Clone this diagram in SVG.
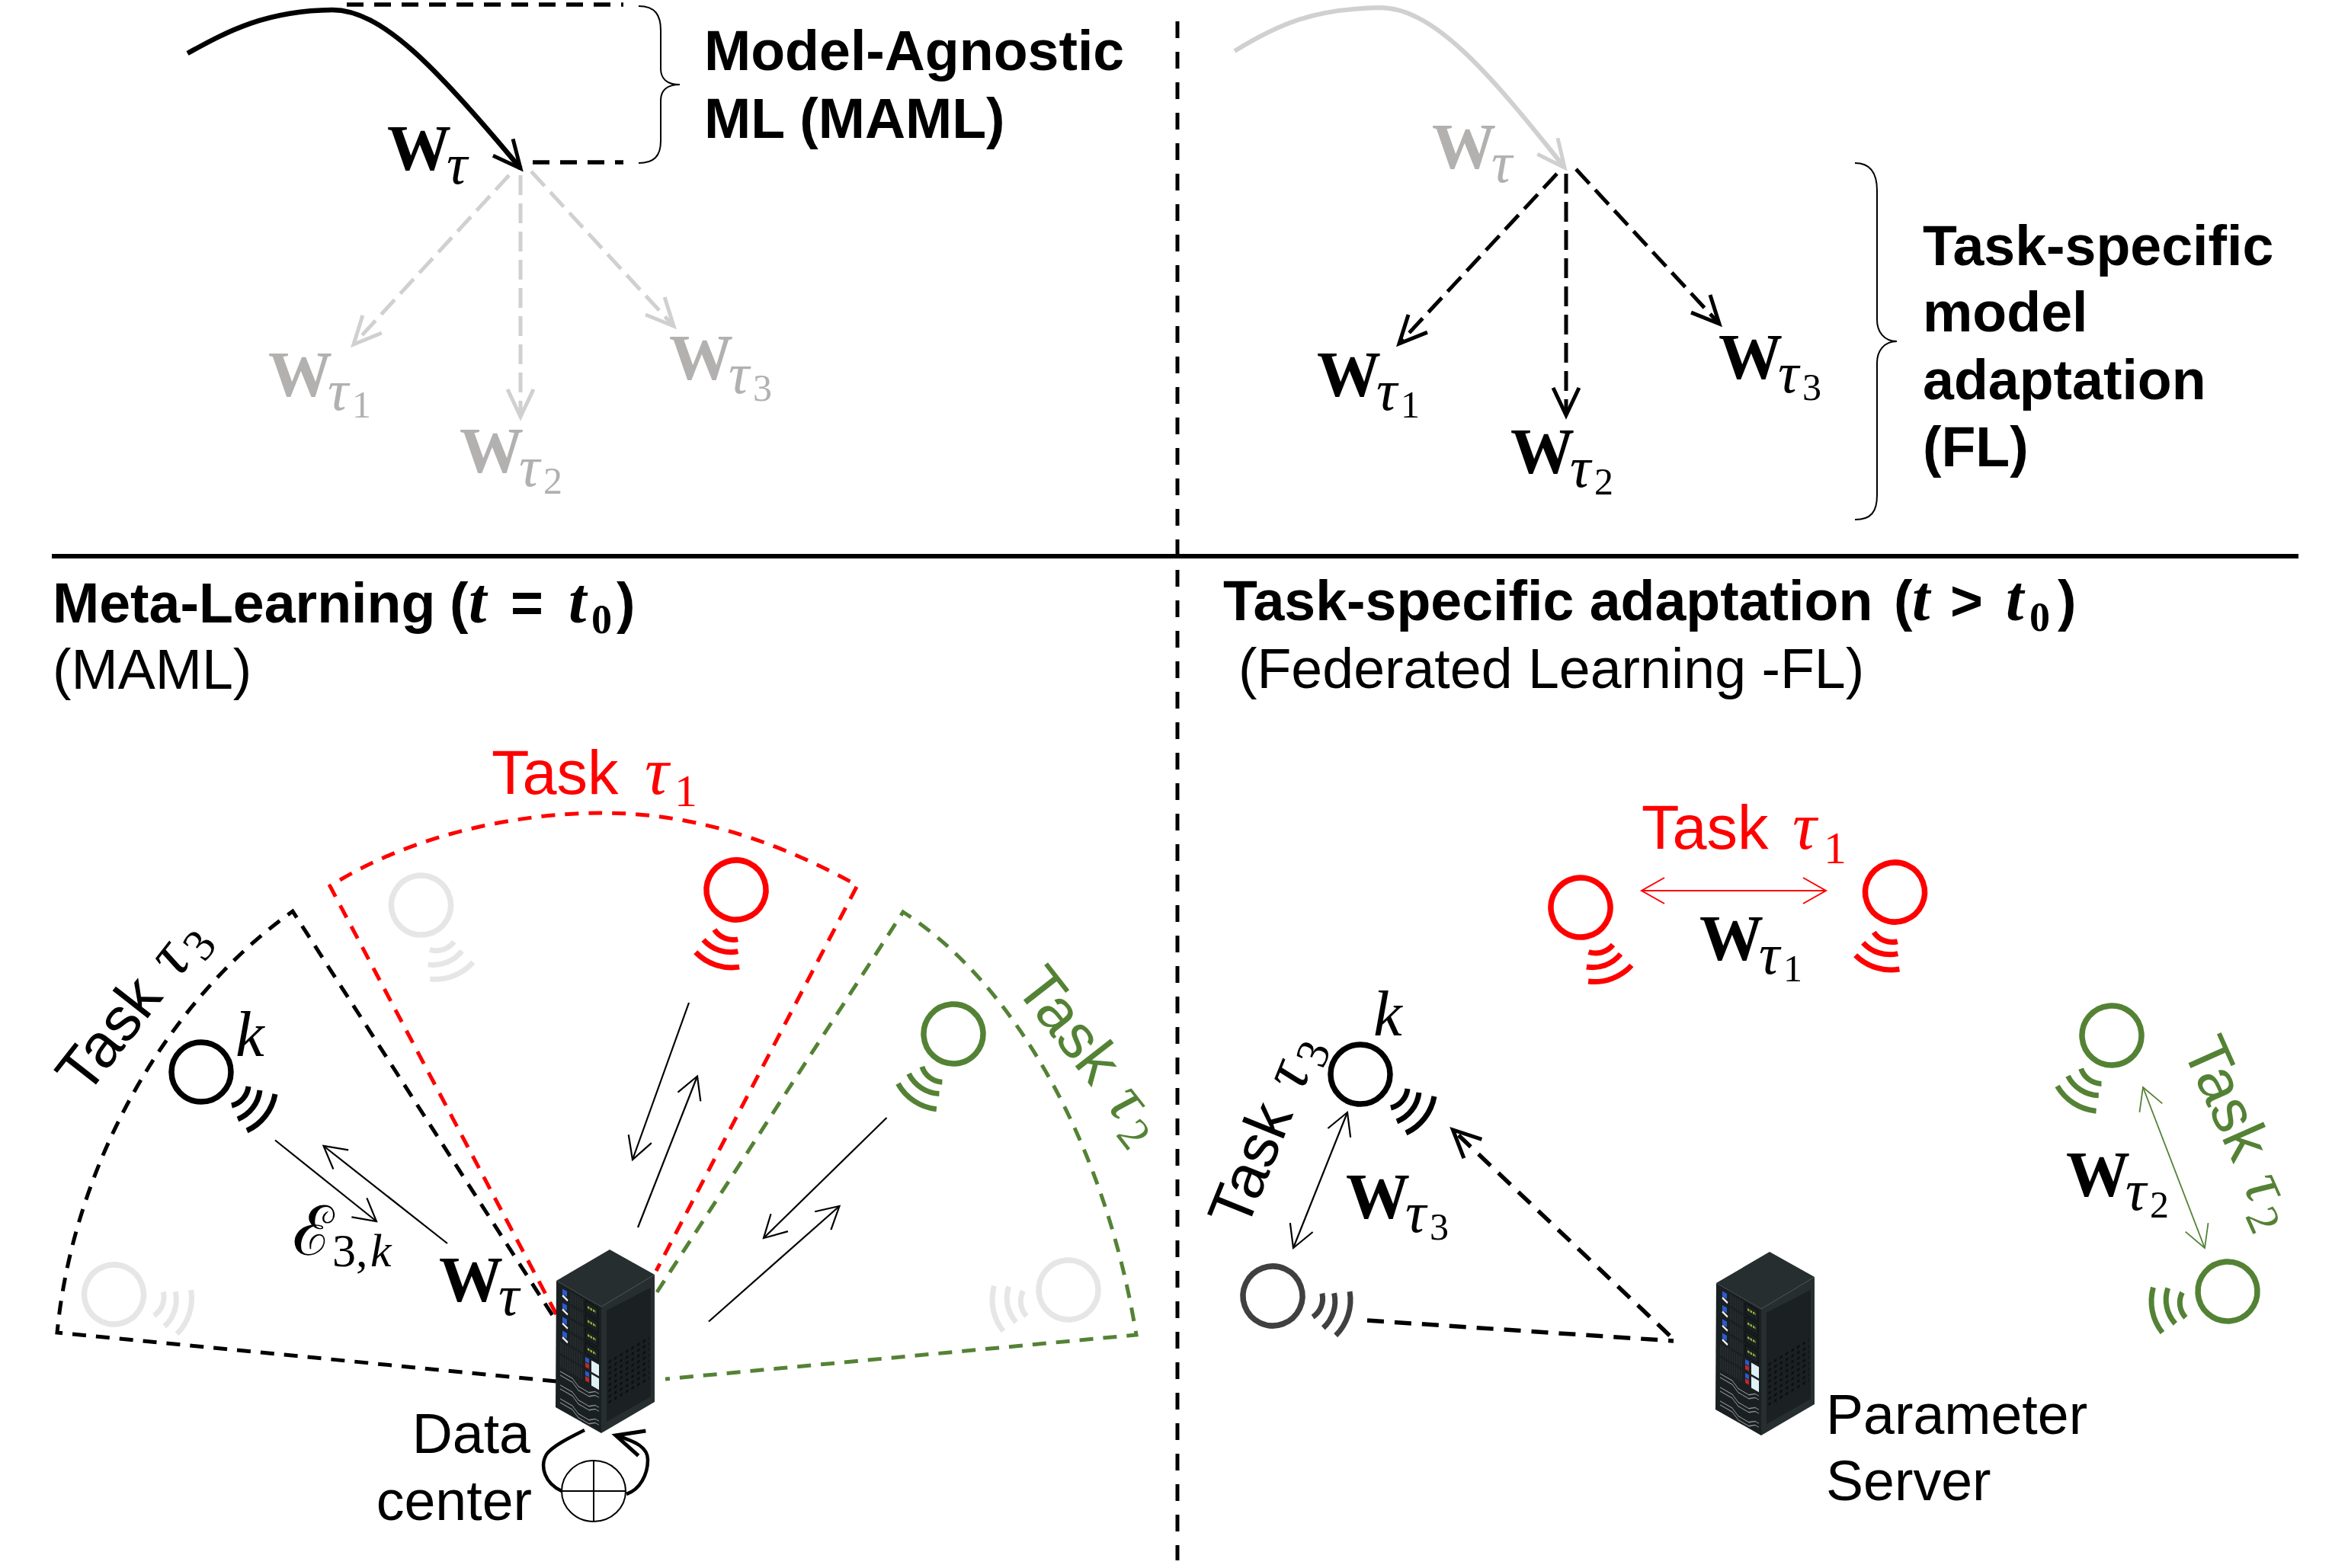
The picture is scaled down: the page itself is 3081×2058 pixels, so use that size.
<svg xmlns="http://www.w3.org/2000/svg" width="3081" height="2058" viewBox="0 0 3081 2058">
<style>
text{font-family:"Liberation Sans",Arial,sans-serif;font-size:73.5px;fill:#000}
.b{font-weight:700}
.W{font-family:"Liberation Serif",serif;font-weight:700;font-size:84px}
.t{font-family:"Liberation Serif",serif;font-style:italic;font-weight:400;font-size:76px}
.d{font-family:"Liberation Serif",serif;font-weight:400;font-size:50px}
.m{font-family:"Liberation Serif",serif;font-style:italic;font-weight:700;font-size:84px}
.gt,.gt text,.gt tspan{fill:#b3b0b0}
.task{font-size:81px}
.tt{font-family:"Liberation Serif",serif;font-style:italic;font-size:88px}
.td{font-family:"Liberation Serif",serif;font-size:60px}
.line{fill:none;stroke:#000;stroke-width:2.2}
.dash{fill:none;stroke:#000;stroke-width:5.5;stroke-dasharray:22 14}
.fan{fill:none;stroke-width:5;stroke-dasharray:26 11}
.sec{fill:none;stroke-width:5;stroke-dasharray:18 13}
.k{stroke:#000}.r{stroke:#f00}.g{stroke:#548235}.lg{stroke:#e6e6e6}.dg{stroke:#404040}.pg{stroke:#d0d0d0}
.dev{fill:none;stroke-width:7.5}
.brace{fill:none;stroke:#000;stroke-width:2}
</style>
<defs>
<marker id="aK" markerUnits="userSpaceOnUse" orient="auto-start-reverse" markerWidth="1" markerHeight="1" overflow="visible"><path d="M-29,-16L0,0L-29,16" fill="none" stroke="#000" stroke-width="2.2"/></marker>
<marker id="aR" markerUnits="userSpaceOnUse" orient="auto-start-reverse" markerWidth="1" markerHeight="1" overflow="visible"><path d="M-30,-17L0,0L-30,17" fill="none" stroke="#f00" stroke-width="2"/></marker>
<marker id="aG" markerUnits="userSpaceOnUse" orient="auto-start-reverse" markerWidth="1" markerHeight="1" overflow="visible"><path d="M-29,-16L0,0L-29,16" fill="none" stroke="#548235" stroke-width="1.8"/></marker>
<marker id="bK" markerUnits="userSpaceOnUse" orient="auto" markerWidth="1" markerHeight="1" overflow="visible"><path d="M-36,-17L0,0L-36,17" fill="none" stroke="#000" stroke-width="5"/></marker>
<marker id="bP" markerUnits="userSpaceOnUse" orient="auto" markerWidth="1" markerHeight="1" overflow="visible"><path d="M-36,-17L0,0L-36,17" fill="none" stroke="#d0d0d0" stroke-width="5"/></marker>
<pattern id="holes" patternUnits="userSpaceOnUse" width="7.5" height="7.5"><rect x="2" y="2" width="3.4" height="3.6" fill="#0c0f10"/></pattern>
<g id="dev"><circle r="39"/><path d="M62,19A29,29 0 0 1 40,44M77,24A47,47 0 0 1 48,62M97,29A66,66 0 0 1 60,77" stroke-width="7"/></g>
<g id="row"><rect x="8" y="4" width="6" height="7" fill="#2a5bd0"/><path d="M8,12.5l7,3" stroke="#eee" stroke-width="3"/><path d="M19,2v15M22,2v15M25,2v15M28,2v15M31,2v15M34,2v15" stroke="#30383a" stroke-width="1"/><rect x="38" y="2" width="17" height="15" fill="none" stroke="#0c0f10" stroke-width="1"/><path d="M41,9h11" stroke="#8fb339" stroke-width="3" stroke-dasharray="2.5 1"/></g>
<g id="row2"><path d="M6,2v15M9,2v15M12,2v15M15,2v15M18,2v15M21,2v15M24,2v15M27,2v15M30,2v15M33,2v15" stroke="#30383a" stroke-width="1"/><rect x="38" y="3" width="5" height="6" fill="#2a5bd0"/><rect x="38" y="10" width="5" height="6" fill="#c0272d"/><rect x="46" y="3" width="10" height="15" fill="#dff1f5"/></g>
<g id="wave"><path d="M5,0h16l8,6h14l8,-6h5M5,5h16l8,6h14l8,-6h5" fill="none" stroke="#8a8f90" stroke-width="1.2"/></g>
<g id="rack">
<polygon points="730,1681 800,1640 859,1673 789,1715" fill="#272e30"/>
<polygon points="730,1681 789,1715 789,1881 729,1847" fill="#1a1f21"/>
<polygon points="789,1715 859,1673 859,1840 789,1881" fill="#272e30"/>
<polygon points="796,1720 854,1690 854,1833 796,1866" fill="#1b2022"/>
<g transform="matrix(1,.576,0,1,730,1681)">
<use href="#row" y="2"/><use href="#row" y="20.3"/><use href="#row" y="38.6"/><use href="#row" y="57"/>
<use href="#row2" y="75"/><use href="#row2" y="93"/>
<use href="#wave" y="116"/><use href="#wave" y="134"/><use href="#wave" y="152"/>
</g>
<rect x="9" y="75" width="54" height="62" fill="url(#holes)" transform="matrix(1,-.6,0,1,789,1715)"/>
</g>
</defs>
<rect width="3081" height="2058" fill="#fff"/>
<g id="connectors">
<path d="M1545,28V2048" fill="none" stroke="#000" stroke-width="5" stroke-dasharray="22 18"/>
<path d="M68,730H3016" fill="none" stroke="#000" stroke-width="6"/>
<path d="M246,70C300,40 350,14 436,13C500,13 570,85 683,221" fill="none" stroke="#000" stroke-width="6.5" marker-end="url(#bK)"/>
<path class="dash" d="M455,6H818"/><path class="dash" d="M699,213H818"/>
<path class="brace" d="M838,8C860,8 867,20 867,40L867,90C867,103 875,111 892,111C875,111 867,119 867,132L867,185C867,205 858,214 838,214"/>
<path class="fan pg" d="M668,230L464,452" marker-end="url(#bP)"/>
<path class="fan pg" d="M683,230V547" marker-end="url(#bP)"/>
<path class="fan pg" d="M697,225L884,428" marker-end="url(#bP)"/>
<path d="M1620,67C1680,30 1725,12 1810,10C1880,10 1950,90 2053,220" fill="none" stroke="#d0d0d0" stroke-width="6" marker-end="url(#bP)"/>
<path class="fan k" d="M2043,228L1836,451" marker-end="url(#bK)"/>
<path class="fan k" d="M2055,228V545" marker-end="url(#bK)"/>
<path class="fan k" d="M2068,222L2256,425" marker-end="url(#bK)"/>
<path class="brace" d="M2434,214C2455,214 2463,228 2463,250L2463,420C2463,435 2472,448 2489,448C2472,448 2463,461 2463,476L2463,650C2463,672 2455,682 2434,682"/>
<path class="sec k" d="M730,1813L75,1749C95,1540 210,1320 384,1196L730,1734"/>
<path class="sec r" d="M730,1725L433,1163C540,1095 680,1067 790,1067C920,1067 1030,1110 1125,1162L861,1668"/>
<path class="sec g" d="M862,1696L1185,1197C1330,1290 1450,1500 1491,1752L873,1810"/>
<path class="line" d="M361,1496.5L494,1603" marker-end="url(#aK)"/>
<path class="line" d="M587,1632L424.5,1504" marker-end="url(#aK)"/>
<path class="line" d="M904,1316L830,1522" marker-end="url(#aK)"/>
<path class="line" d="M837,1611L915,1412.5" marker-end="url(#aK)"/>
<path class="line" d="M1163.5,1467L1002,1625" marker-end="url(#aK)"/>
<path class="line" d="M930,1734.5L1101.5,1583" marker-end="url(#aK)"/>
<path d="M767,1877C745,1888 725,1898 717,1909C708,1925 715,1947 737,1957" fill="none" stroke="#000" stroke-width="4.5"/>
<path d="M822,1961C840,1955 850,1935 850,1916C850,1900 835,1892 808,1884" fill="none" stroke="#000" stroke-width="4.5" marker-end="url(#bK)"/>
<path d="M2154,1169H2396" fill="none" stroke="#f00" stroke-width="2" marker-start="url(#aR)" marker-end="url(#aR)"/>
<path class="line" d="M1768,1460L1697,1638" marker-start="url(#aK)" marker-end="url(#aK)"/>
<path d="M2812,1427L2893,1638" fill="none" stroke="#548235" stroke-width="1.8" marker-start="url(#aG)" marker-end="url(#aG)"/>
<path class="dash" d="M2191,1753L1906.5,1483" marker-end="url(#bK)"/>
<path class="dash" d="M1794,1733L2196,1760"/>
</g>
<g id="node-server-dc"><use href="#rack"/></g>
<g id="node-server-ps"><use href="#rack" transform="translate(1522,3)"/></g>
<g id="node-oplus" fill="none" stroke="#000" stroke-width="2"><ellipse cx="779" cy="1957" rx="42" ry="40"/><path d="M737,1957H821M779,1917V1997"/></g>
<g id="node-l3-k" class="dev k" transform="translate(264,1407)"><use href="#dev"/></g>
<g id="node-l3-a" class="dev lg" transform="translate(149.5,1699) rotate(-20)"><use href="#dev"/></g>
<g id="node-l1-a" class="dev lg" transform="translate(552.5,1188) rotate(31)"><use href="#dev"/></g>
<g id="node-l1-b" class="dev r" transform="translate(966,1168) rotate(71)"><use href="#dev"/></g>
<g id="node-l2-a" class="dev g" transform="translate(1251,1357) rotate(86)"><use href="#dev"/></g>
<g id="node-l2-b" class="dev lg" transform="translate(1402,1693) rotate(131)"><use href="#dev"/></g>
<g id="node-r1-a" class="dev r" transform="translate(2074,1191) rotate(32)"><use href="#dev"/></g>
<g id="node-r1-b" class="dev r" transform="translate(2486.5,1171) rotate(70)"><use href="#dev"/></g>
<g id="node-r3-k" class="dev k" transform="translate(1785,1410)"><use href="#dev"/></g>
<g id="node-r3-a" class="dev dg" transform="translate(1670,1701) rotate(-20)"><use href="#dev"/></g>
<g id="node-r2-a" class="dev g" transform="translate(2771,1359) rotate(85)"><use href="#dev"/></g>
<g id="node-r2-b" class="dev g" transform="translate(2923,1695) rotate(131)"><use href="#dev"/></g>
<g id="labels">
<text class="b" x="924" y="92">Model-Agnostic</text>
<text class="b" x="924" y="181">ML (MAML)</text>
<text class="b" x="2523" y="348">Task-specific</text>
<text class="b" x="2523" y="435">model</text>
<text class="b" x="2523" y="524">adaptation</text>
<text class="b" x="2523" y="612">(FL)</text>
<text class="W" x="508" y="223">W<tspan class="t" x="586" y="241">τ</tspan></text>
<g class="gt">
<text class="W" x="352" y="520">W<tspan class="t" x="430" y="538">τ</tspan><tspan class="d" x="462" y="548">1</tspan></text>
<text class="W" x="603" y="620">W<tspan class="t" x="681" y="638">τ</tspan><tspan class="d" x="713" y="648">2</tspan></text>
<text class="W" x="878" y="498">W<tspan class="t" x="956" y="516">τ</tspan><tspan class="d" x="988" y="526">3</tspan></text>
<text class="W" x="1879" y="221">W<tspan class="t" x="1957" y="239">τ</tspan></text>
</g>
<text class="W" x="1728" y="520">W<tspan class="t" x="1806" y="538">τ</tspan><tspan class="d" x="1838" y="548">1</tspan></text>
<text class="W" x="1982" y="621">W<tspan class="t" x="2060" y="639">τ</tspan><tspan class="d" x="2092" y="649">2</tspan></text>
<text class="W" x="2255" y="497">W<tspan class="t" x="2333" y="515">τ</tspan><tspan class="d" x="2365" y="525">3</tspan></text>
<text class="b" x="69" y="817">Meta-Learning <tspan x="590">(</tspan><tspan class="m" x="615">t</tspan><tspan x="670">=</tspan><tspan class="m" x="746">t</tspan><tspan class="d" style="font-weight:700;font-size:54px" x="776" y="831">0</tspan><tspan x="809" y="817">)</tspan></text>
<text x="69" y="904">(MAML)</text>
<text class="b" x="1605" y="814">Task-specific adaptation <tspan x="2485">(</tspan><tspan class="m" x="2509">t</tspan><tspan x="2559">&gt;</tspan><tspan class="m" x="2632">t</tspan><tspan class="d" style="font-weight:700;font-size:54px" x="2663" y="828">0</tspan><tspan x="2700" y="814">)</tspan></text>
<text x="1625" y="903">(Federated Learning -FL)</text>
<text class="task" x="645" y="1042" style="fill:#f00">Task <tspan class="tt" x="846" style="fill:#f00">τ</tspan><tspan class="td" x="885" y="1058" style="fill:#f00">1</tspan></text>
<text class="task" transform="translate(113,1440) rotate(-52)">Task <tspan class="tt" x="195">τ</tspan><tspan class="td" x="234" y="14">3</tspan></text>
<text class="task" transform="translate(1330,1296) rotate(52)" style="fill:#548235">Task <tspan class="tt" x="195" style="fill:#548235">τ</tspan><tspan class="td" x="234" y="14" style="fill:#548235">2</tspan></text>
<text class="task" x="2154" y="1114" style="fill:#f00">Task <tspan class="tt" x="2352" style="fill:#f00">τ</tspan><tspan class="td" x="2393" y="1133" style="fill:#f00">1</tspan></text>
<text class="task" transform="translate(1635,1616) rotate(-68)">Task <tspan class="tt" x="195">τ</tspan><tspan class="td" x="234" y="14">3</tspan></text>
<text class="task" transform="translate(2863,1376) rotate(66)" style="fill:#548235">Task <tspan class="tt" x="195" style="fill:#548235">τ</tspan><tspan class="td" x="234" y="14" style="fill:#548235">2</tspan></text>
<text class="W" x="576" y="1708">W<tspan class="t" x="654" y="1726">τ</tspan></text>
<text class="W" x="2230" y="1260">W<tspan class="t" x="2308" y="1278">τ</tspan><tspan class="d" x="2340" y="1288">1</tspan></text>
<text class="W" x="1766" y="1599">W<tspan class="t" x="1844" y="1617">τ</tspan><tspan class="d" x="1876" y="1627">3</tspan></text>
<text class="W" x="2711" y="1570">W<tspan class="t" x="2789" y="1588">τ</tspan><tspan class="d" x="2821" y="1598">2</tspan></text>
<text class="t" x="309" y="1386" style="font-size:85px">k</text>
<text class="t" x="1802" y="1359" style="font-size:85px">k</text>
<text x="384" y="1647" style="font-family:'DejaVu Serif',serif;font-size:90px">ℰ<tspan class="d" x="436" y="1662" style="font-size:62px">3,</tspan><tspan class="t" x="486" y="1662" style="font-size:62px">k</tspan></text>
<text x="696" y="1907" text-anchor="end">Data</text>
<text x="698" y="1995" text-anchor="end">center</text>
<text x="2396" y="1882">Parameter</text>
<text x="2396" y="1969">Server</text>
</g>
</svg>
